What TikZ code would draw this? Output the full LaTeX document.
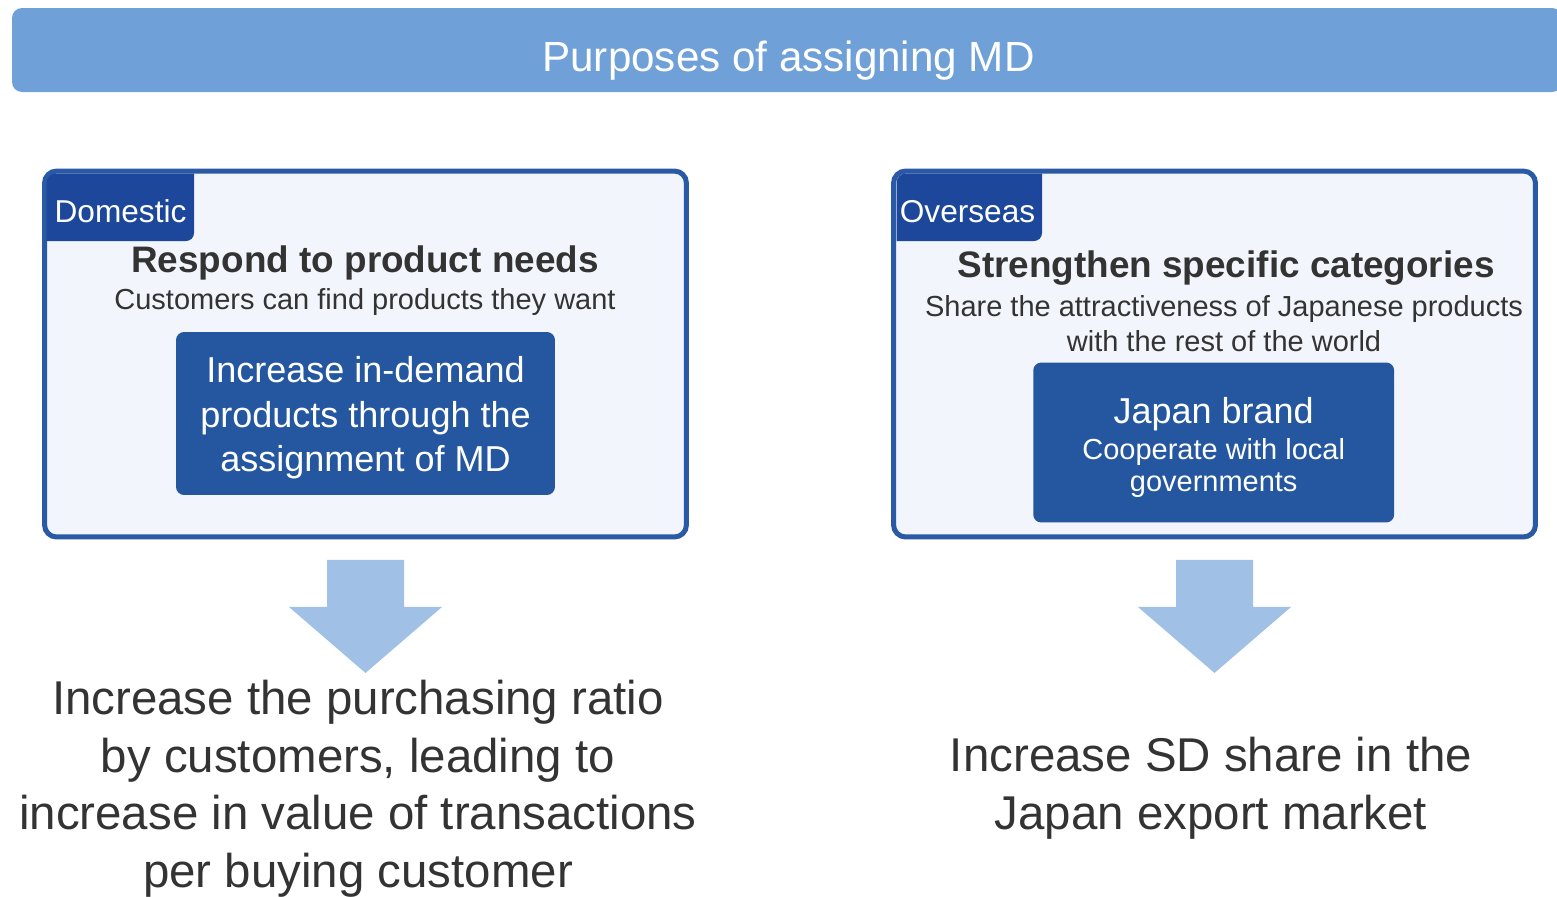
\documentclass[tikz,border=0pt]{standalone}
\usepackage{fontspec}
\setmainfont{Liberation Sans}
\usetikzlibrary{positioning,backgrounds}
\definecolor{bannerFill}{HTML}{6FA0D8}
\definecolor{panelFill}{HTML}{F2F5FB}
\definecolor{panelStroke}{HTML}{2A5AA5}
\definecolor{tagFill}{HTML}{1D479B}
\definecolor{measureFill}{HTML}{2457A0}
\definecolor{arrowFill}{HTML}{A0C1E5}
\definecolor{textMain}{HTML}{333333}

\begin{document}
\begin{tikzpicture}[
    x=0.02cm, y=-0.02cm,
    panel/.style={
        rectangle, rounded corners=0.24cm,
        draw=panelStroke, line width=0.1cm,
        fill=panelFill,
        minimum width=12.84cm, minimum height=7.32cm
    },
    measureNode/.style={
        rectangle, rounded corners=0.16cm,
        fill=measureFill, text=white,
        align=center, inner sep=0pt
    },
    bannerText/.style={font=\fontsize{24}{28}\selectfont, text=white, inner sep=0pt},
    tagText/.style={font=\fontsize{18}{21}\selectfont, text=white, inner sep=0pt},
    headText/.style={font=\bfseries\fontsize{21}{25}\selectfont, text=textMain, inner sep=0pt},
    subText/.style={font=\fontsize{16.5}{20.2}\selectfont, text=textMain, align=center, inner sep=0pt},
    resultText/.style={font=\fontsize{27}{32.7}\selectfont, text=textMain, align=center, inner sep=0pt},
    bigArrow/.style={fill=arrowFill}
]
\useasboundingbox (0,0) rectangle (1557,896);

% banner runs off the right edge of the slide
\fill[bannerFill, rounded corners=0.2cm] (12,8) rectangle (1562,92);
\node[bannerText, anchor=base] (Banner) at (788.5,71) {Purposes of assigning MD};

\node[panel] (Domestic) at (365.5,354) {};
\node[panel] (Overseas) at (1214.5,354) {};

% corner tags, clipped to the inside of the panel border
\begin{scope}
  \clip[rounded corners=0.19cm] (46.5,173.5) rectangle (684.5,534.5);
  \fill[tagFill, rounded corners=0.16cm] (0,150) rectangle (194,241);
\end{scope}
\begin{scope}
  \clip[rounded corners=0.19cm] (896.5,173.5) rectangle (1532.5,534.5);
  \fill[tagFill, rounded corners=0.16cm] (850,150) rectangle (1042,241);
\end{scope}

\node[tagText, anchor=base] (DomTag) at (120.5,222) {Domestic};
\node[headText, anchor=base] (DomHead) at (365,272.3) {Respond to product needs};
\node[subText, anchor=base] (DomSub) at (365,309) {Customers can find products they want};
\node[measureNode, minimum width=7.58cm, minimum height=3.26cm,
  font=\fontsize{20.5}{25.3}\selectfont] (DomMeasure) at (365.5,413.5)
  {\rule{0pt}{20pt}Increase in-demand\\products through the\\assignment of MD};

\node[tagText, anchor=base] (OvsTag) at (967.5,222) {Overseas};
\node[headText, anchor=base] (OvsHead) at (1226,277.3) {Strengthen specific categories};
\node[subText, anchor=base] (OvsSub) at (1224,351.7)
  {Share the attractiveness of Japanese products\\with the rest of the world};
\node[measureNode, minimum width=7.22cm, minimum height=3.2cm,
  font=\fontsize{16.5}{18}\selectfont] (OvsMeasure) at (1213.7,442.5)
  {\rule{0pt}{20.5pt}{\fontsize{20.5}{24}\selectfont Japan brand}\\[2.7pt]Cooperate with local\\governments};

% block arrows down to the results
\path (Domestic.south) ++(0,20.5) coordinate (DomArrow);
\path (Overseas.south) ++(0,20.5) coordinate (OvsArrow);
\fill[bigArrow] (DomArrow) ++(-38.5,0) -- ++(77,0) -- ++(0,47) -- ++(38,0)
  -- ++(-76.5,66) -- ++(-76.5,-66) -- ++(38,0) -- cycle;
\fill[bigArrow] (OvsArrow) ++(-38.5,0) -- ++(77,0) -- ++(0,47) -- ++(38,0)
  -- ++(-76.5,66) -- ++(-76.5,-66) -- ++(38,0) -- cycle;

\node[resultText, anchor=base] (DomResult) at (358,887)
  {Increase the purchasing ratio\\by customers, leading to\\increase in value of transactions\\per buying customer};
\node[resultText, anchor=base] (OvsResult) at (1211,829.3)
  {Increase SD share in the\\Japan export market};

\end{tikzpicture}
\end{document}
